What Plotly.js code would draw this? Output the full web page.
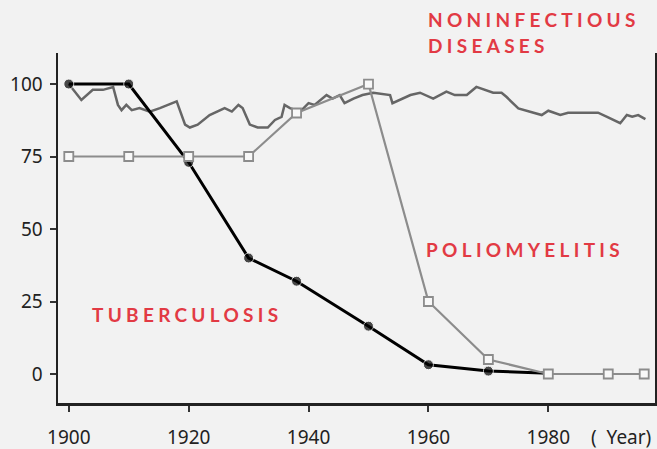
<!DOCTYPE html>
<html>
<head>
<meta charset="utf-8">
<script src="https://cdn.plot.ly/plotly-3.0.1.min.js"></script>
<style>
  html, body { margin: 0; padding: 0; background: #f2f2f2; }
  #chart { width: 657px; height: 449px; }
</style>
</head>
<body>
<div id="chart"></div>
<script>
// Noninfectious diseases (traced line)
const nonYears = [1900, 1902.1, 1904, 1905.7, 1907.4, 1908.2, 1908.8, 1909.6, 1910.5, 1911.8, 1913.5, 1915.2, 1918, 1919.4, 1920.2, 1921.5, 1923.5, 1926, 1927.2, 1928.3, 1929, 1930.2, 1931.5, 1933.2, 1934.4, 1935.5, 1936, 1936.9, 1938.6, 1940, 1941, 1943, 1944, 1945.2, 1946, 1947.5, 1949, 1950.8, 1953.6, 1954, 1957, 1958.6, 1960.8, 1963, 1964.4, 1966.4, 1968, 1970.8, 1972.2, 1973, 1975, 1977, 1978.9, 1980, 1982, 1983.3, 1988.3, 1989.8, 1992, 1993.1, 1994, 1995, 1996.2];
const nonValues = [100, 94.5, 98, 98, 99, 92.8, 91, 92.8, 91, 91.7, 90.5, 91.7, 94, 86, 85, 86, 89.3, 91.7, 90.5, 92.8, 91.7, 86, 85, 85, 87.6, 88.7, 92.8, 91.7, 90.5, 93.4, 92.8, 96.2, 95, 96.2, 93.4, 95, 96.2, 97, 96.2, 93.4, 96.2, 97, 95, 97.4, 96.2, 96.2, 99, 97, 97, 95.6, 91.6, 90.5, 89.3, 90.8, 89.3, 90.1, 90.1, 88.7, 86.5, 89.3, 88.7, 89.3, 87.9];

// Tuberculosis
const tbYears = [1900, 1910, 1920, 1930, 1938, 1950, 1960, 1970, 1980];
const tbValues = [100, 100, 73, 40, 32, 16.5, 3.2, 1, 0.3];
const tbMarked = [true, true, true, true, true, true, true, true, false];

// Poliomyelitis
const polioYears = [1900, 1910, 1920, 1930, 1938, 1950, 1960, 1970, 1980, 1990, 1996];
const polioValues = [75, 75, 75, 75, 90, 100, 25, 5, 0, 0, 0];

const xTicks = [1900, 1920, 1940, 1960, 1980];
const yTicks = [0, 25, 50, 75, 100];

const labelRed = '#e23a44';
const spacedLabels = ['NONINFECTIOUS', 'DISEASES', 'TUBERCULOSIS', 'POLIOMYELITIS'];

const traces = [
  {
    x: nonYears, y: nonValues, mode: 'lines', type: 'scatter',
    line: { color: '#666666', width: 2.5 }, hoverinfo: 'skip'
  },
  {
    x: tbYears, y: tbValues, mode: 'lines+markers', type: 'scatter',
    line: { color: '#000000', width: 3 },
    marker: { symbol: 'circle', size: tbMarked.map(m => m ? 10 : 0), color: '#000000' },
    hoverinfo: 'skip'
  },
  {
    x: polioYears, y: polioValues, mode: 'lines+markers', type: 'scatter',
    line: { color: '#8c8c8c', width: 2.2 },
    marker: { symbol: 'square', size: 9, color: '#f8f8f8', line: { color: '#8c8c8c', width: 1.8 } },
    hoverinfo: 'skip'
  }
];

const annFont = { family: 'Lato, sans-serif', size: 19, color: labelRed, weight: 'bold' };
const tickFont = { family: '"Noto Sans", sans-serif', size: 19, color: '#222222' };

function redLabel(text, px, py) {
  return { xref: 'paper', yref: 'paper', x: (px - 58) / 597, y: (449 - 46 - py) / 350,
           xanchor: 'left', yanchor: 'middle', align: 'left',
           text: text, showarrow: false, font: annFont };
}

const layout = {
  width: 657, height: 449,
  margin: { l: 58, r: 2, t: 53, b: 46 },
  paper_bgcolor: '#f2f2f2', plot_bgcolor: '#f2f2f2',
  showlegend: false,
  font: tickFont,
  xaxis: {
    range: [1898.2, 1997.8], tickvals: xTicks, ticktext: xTicks.map(String),
    showgrid: false, zeroline: false, showline: true, linecolor: '#222222', linewidth: 2.5,
    ticks: 'outside', ticklen: 6, tickwidth: 2, tickcolor: '#333333',
    ticklabelstandoff: 10, tickfont: tickFont
  },
  yaxis: {
    range: [-10, 110.7], tickvals: yTicks, ticktext: yTicks.map(String),
    showgrid: false, zeroline: false, showline: true, mirror: true, linecolor: '#222222', linewidth: 2.5,
    ticks: 'outside', ticklen: 6, tickwidth: 2, tickcolor: '#333333',
    ticklabelstandoff: 3, tickfont: tickFont
  },
  annotations: [
    redLabel(spacedLabels[0], 426, 20),
    redLabel(spacedLabels[1], 426, 46),
    redLabel(spacedLabels[2], 90, 314),
    redLabel(spacedLabels[3], 424, 249),
    { xref: 'paper', yref: 'paper', x: (589 - 58) / 597, y: (449 - 46 - 437) / 350, xanchor: 'left', yanchor: 'middle',
      text: '(  Year)', showarrow: false, font: tickFont }
  ]
};

Plotly.newPlot('chart', traces, layout, { staticPlot: true, displayModeBar: false }).then(() => {
  document.querySelectorAll('#chart .annotation-text').forEach(el => {
    if (spacedLabels.includes(el.textContent)) el.style.letterSpacing = '4.3px';
  });
});
</script>
</body>
</html>
